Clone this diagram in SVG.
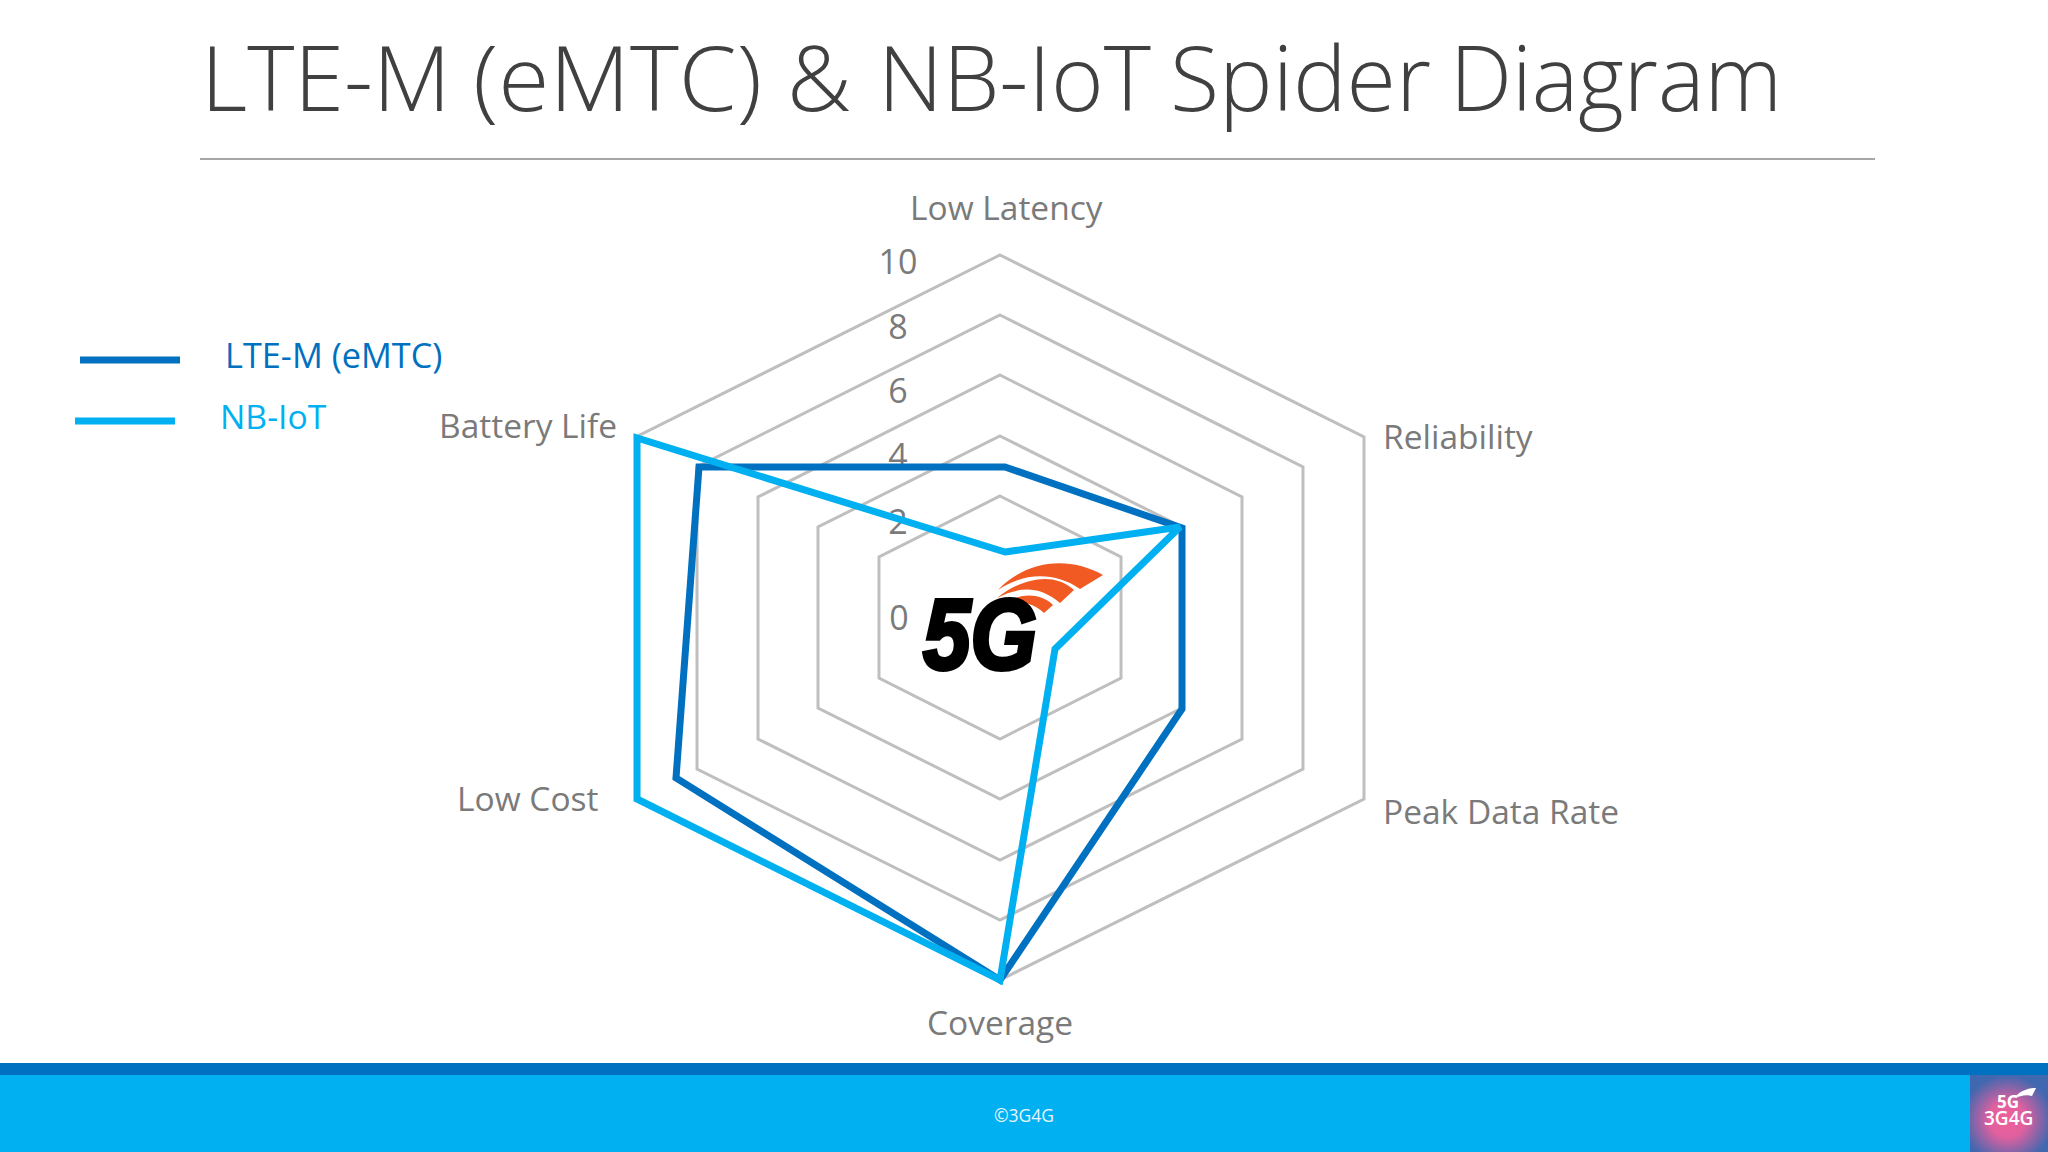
<svg xmlns="http://www.w3.org/2000/svg" width="2048" height="1152" viewBox="0 0 2048 1152">
<defs>
<style>
text{font-family:"Open Sans","Noto Sans","Liberation Sans",sans-serif}
.lbl{font-size:33.5px;fill:#7a7a7a}
.num{font-size:34px;fill:#7a7a7a;text-anchor:middle}
.ring{fill:none;stroke:#bfbfbf;stroke-width:3}
.s{fill:none;stroke-width:7;stroke-linejoin:miter;stroke-miterlimit:3}
.dark{stroke:#0070c0}
.light{stroke:#00b0f0}
</style>
<radialGradient id="g" cx="48%" cy="58%" r="58%"><stop offset="0" stop-color="#f0609a"/><stop offset="0.4" stop-color="#e0609f"/><stop offset="1" stop-color="#3f68b0"/></radialGradient>
</defs>
<rect width="2048" height="1152" fill="#fff"/>
<text id="title" y="111" font-size="90" font-weight="300" fill="#404040"><tspan x="201">LTE-M</tspan> <tspan x="473" textLength="289" lengthAdjust="spacingAndGlyphs">(eMTC)</tspan> <tspan x="787">&amp;</tspan> <tspan x="878">NB-IoT</tspan> <tspan x="1170">Spider</tspan> <tspan x="1450" textLength="332" lengthAdjust="spacingAndGlyphs">Diagram</tspan></text>
<rect x="200" y="158" width="1675" height="2" fill="#a6a6a6"/>
<g id="grid">
<polygon class="ring" points="1000,255 1364,437 1364,799 1000,980 636,799 636,437"/>
<polygon class="ring" points="1000,315 1303,467 1303,769 1000,920 697,769 697,467"/>
<polygon class="ring" points="1000,375 1242,497 1242,739 1000,860 758,739 758,497"/>
<polygon class="ring" points="1000,436 1182,527 1182,708 1000,799 818,708 818,527"/>
<polygon class="ring" points="1000,496 1121,557 1121,678 1000,739 879,678 879,557"/>
</g>
<g id="axis-labels">
<text class="lbl" x="910" y="220">Low Latency</text>
<text class="lbl" x="1383" y="449">Reliability</text>
<text class="lbl" x="1383" y="824">Peak Data Rate</text>
<text class="lbl" x="927" y="1035">Coverage</text>
<text class="lbl" x="457" y="811">Low Cost</text>
<text class="lbl" x="439" y="438">Battery Life</text>
</g>
<g id="scale-labels">
<text class="num" x="898" y="274">10</text>
<text class="num" x="898" y="339">8</text>
<text class="num" x="898" y="403">6</text>
<text class="num" x="898" y="468">4</text>
<text class="num" x="898" y="534">2</text>
<text class="num" x="899" y="630">0</text>
</g>
<g id="logo-5g">
<path fill="#f15a22" d="M998,590C1020,566 1062,552 1103,575L1080,589C1055,572 1025,572 998,590Z"/>
<path fill="#f15a22" d="M997,598C1015,583 1050,568 1074,590L1060,603C1040,586 1020,586 997,598Z"/>
<path fill="#f15a22" d="M994,609C1010,597 1035,588 1053,605L1044,613C1030,600 1015,601 994,609Z"/>
<text x="923" y="669" font-size="100" textLength="114" lengthAdjust="spacingAndGlyphs" font-weight="700" font-style="italic" fill="#000" stroke="#000" stroke-width="4" style="font-family:'Liberation Sans',sans-serif">5G</text>
</g>
<g id="connectors">
<polygon class="s dark" points="1005,467 1182,528 1182,709 1000,980 676,778 699,467"/>
<polygon class="s light" points="1005,552 1180,527 1055,649 1000,980 637,799 637,438"/>
</g>
<g id="legend">
<line class="dark" x1="80" y1="360" x2="180" y2="360" stroke-width="7"/>
<line class="light" x1="75" y1="421" x2="175" y2="421" stroke-width="7"/>
<text x="225" y="368" font-size="34.3" fill="#0070c0">LTE-M (eMTC)</text>
<text x="220" y="429" font-size="33.7" fill="#00b0f0">NB-IoT</text>
</g>
<g id="footer">
<rect y="1063" width="2048" height="12" fill="#0070c0"/>
<rect y="1075" width="2048" height="77" fill="#00b0f0"/>
<text x="1024" y="1122" font-size="17.5" fill="#e8f6fd" text-anchor="middle">©3G4G</text>
</g>
<g id="logo-3g4g">
<rect x="1970" y="1075" width="78" height="77" fill="url(#g)"/>
<path fill="#fff" d="M2014,1098C2020,1091 2028,1088 2036,1088L2032,1096C2026,1094 2020,1096 2014,1098Z"/>
<text x="1997" y="1108" font-size="17" font-weight="700" fill="#fff">5G</text>
<text x="1984" y="1125" font-size="19" font-weight="600" fill="#fff">3G4G</text>
</g>
</svg>
